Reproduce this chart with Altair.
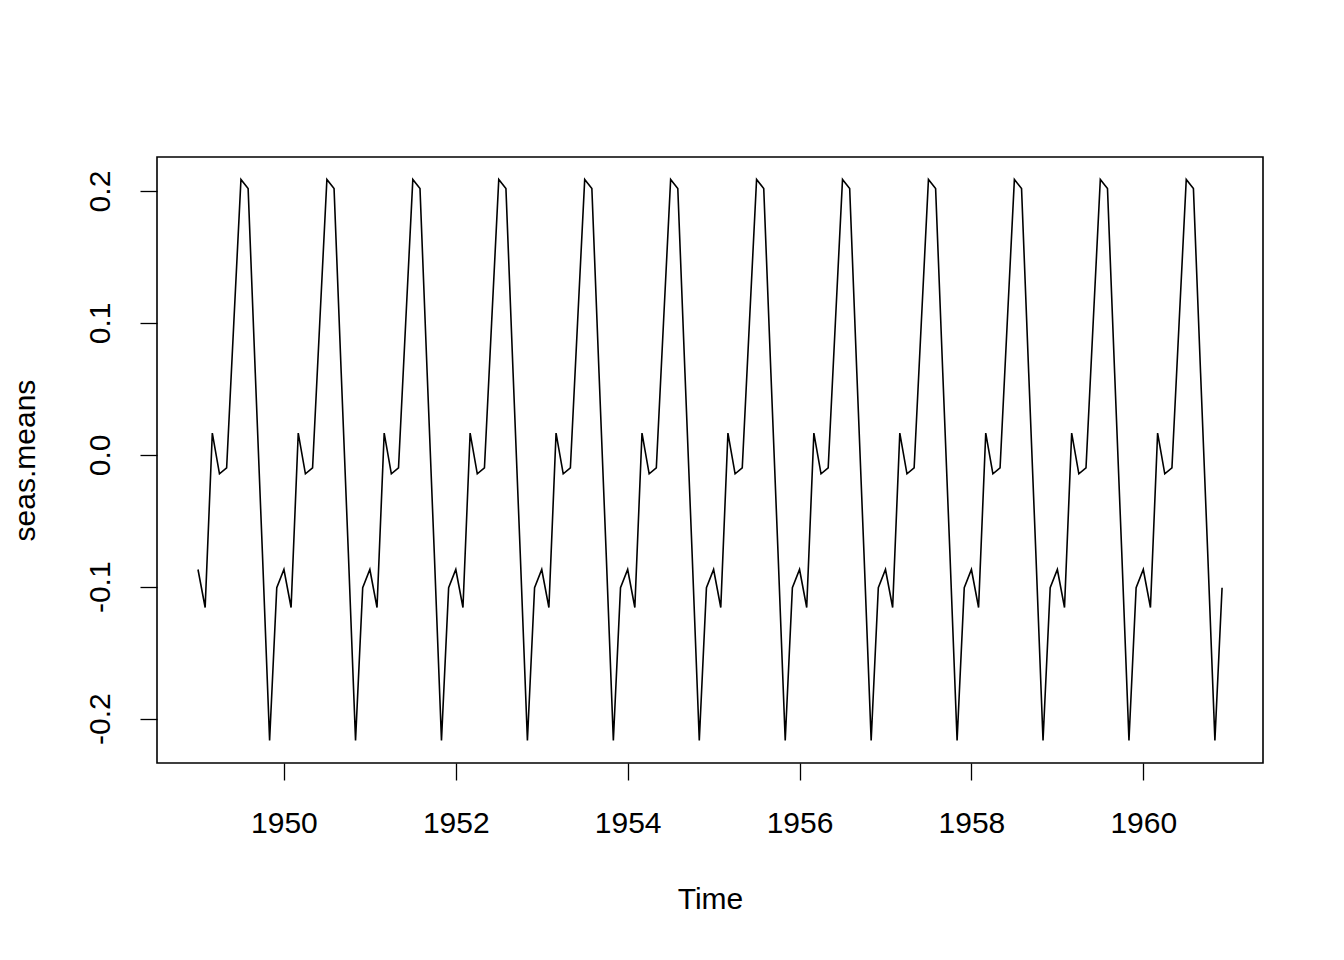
import altair as alt
import pandas as pd

years = list(range(1949, 1961))
month_effect = [-0.0869, -0.1157, 0.0165, -0.0144, -0.0099, 0.100,
                0.2088, 0.2019, 0.062, -0.075, -0.2166, -0.1007]
x_ticks = [1950, 1952, 1954, 1956, 1958, 1960]
y_ticks = [-0.2, -0.1, 0.0, 0.1, 0.2]

rows = []
for yr in years:
    for m, v in enumerate(month_effect):
        rows.append({"time": yr + m / 12.0, "value": v})
df = pd.DataFrame(rows)

FONT = "Liberation Sans"
FS = 30

chart = alt.Chart(df).mark_line(color="black", strokeWidth=1.6).encode(
    x=alt.X("time:Q",
            scale=alt.Scale(domain=[1948.523, 1961.393], nice=False, zero=False),
            axis=alt.Axis(values=x_ticks, format="d", title="Time", grid=False,
                          domain=False, tickColor="black", tickWidth=1.3, tickSize=17,
                          labelPadding=28, labelFont=FONT, labelFontSize=FS,
                          labelColor="black", titleFont=FONT, titleFontSize=FS,
                          titleFontWeight="normal", titleColor="black",
                          titlePadding=46, labelFlush=False)),
    y=alt.Y("value:Q",
            scale=alt.Scale(domain=[-0.2336, 0.2258], nice=False, zero=False),
            axis=alt.Axis(values=y_ticks, format=".1f", title="seas.means", grid=False,
                          labelExpr="replace(format(datum.value, '.1f'), '\u2212', '-')",
                          domain=False, tickColor="black", tickWidth=1.3, tickSize=17,
                          labelAngle=270, labelAlign="center", labelBaseline="bottom",
                          labelPadding=25, labelFont=FONT, labelFontSize=FS,
                          labelColor="black", titleFont=FONT, titleFontSize=FS,
                          titleFontWeight="normal", titleColor="black",
                          titlePadding=45, labelFlush=False)),
).properties(
    width=1106, height=606,
    autosize=alt.AutoSizeParams(type="none"),
    padding={"left": 149, "top": 149, "right": 73, "bottom": 189},
).configure(background="white").configure_view(stroke="black", strokeWidth=1.6)

chart.save("out.html", embed_options={"renderer": "svg", "actions": False})
